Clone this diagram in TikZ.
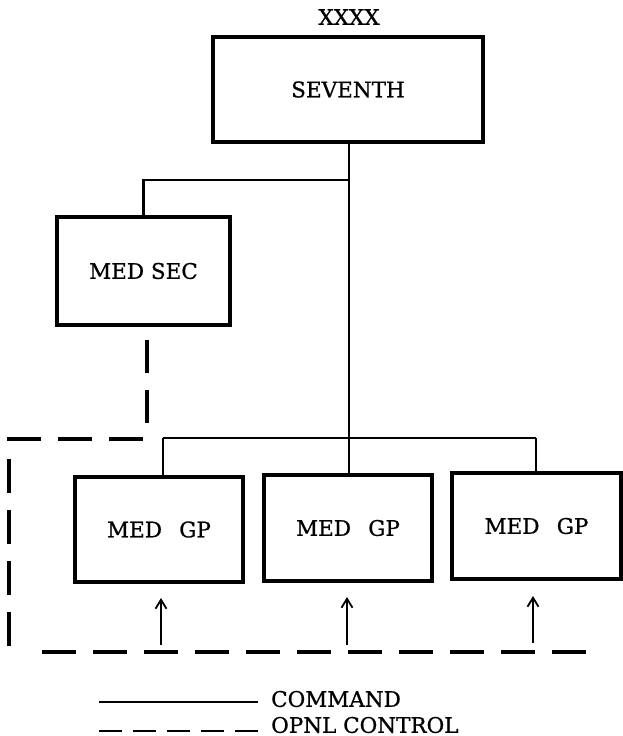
\documentclass[tikz,border=0pt]{standalone}
\usepackage{fontspec}
\setmainfont{DejaVu Serif}[FakeBold=0.8]
\usetikzlibrary{arrows.meta}
\begin{document}
\begin{tikzpicture}[x=1pt,y=-1pt,
  lbl/.style={font=\fontsize{21.5}{24}\selectfont, inner sep=0pt},
  unit/.style={draw, line width=3.2pt, inner sep=0pt, font=\fontsize{21.5}{24}\selectfont},
  cmd/.style={line width=2.8pt},
  opnl/.style={line width=3.6pt, dash pattern=on 34pt off 17pt},
  upar/.style={line width=2pt, -{Straight Barb[length=9pt,width=11pt,line width=1.8pt]}},
  legsolid/.style={line width=1.8pt},
  legdash/.style={line width=2pt, dash pattern=on 23pt off 11pt}]
\useasboundingbox (0,0) rectangle (622,736);
% units
\node[unit, minimum width=270pt, minimum height=105pt] (sev) at (348,89.5) {SEVENTH};
\node[lbl] (xxxx) at (349,17) {XXXX};
\node[unit, minimum width=173pt, minimum height=108pt] (sec) at (143.5,271) {MED SEC};
\node[unit, minimum width=168pt, minimum height=105pt] (gp1) at (159,529.5) {MED\hspace{0.8em}GP};
\node[unit, minimum width=168pt, minimum height=106pt] (gp2) at (348,528) {MED\hspace{0.8em}GP};
\node[unit, minimum width=169pt, minimum height=106pt] (gp3) at (536.5,526) {MED\hspace{0.8em}GP};
% command lines
\coordinate (br) at (349,180);
\coordinate (busL) at (163,438);
\coordinate (busR) at (536,438);
\draw[cmd] (sev.south -| br) -- (br |- busL);
\draw[cmd] (br) -| (sec.north);
\draw[cmd] (busL) -- (busR);
\draw[cmd] (busL) -- (busL |- gp1.north);
\draw[cmd] (br |- busL) -- (br |- gp2.north);
\draw[cmd] (busR) -- (busR |- gp3.north);
% operational control (dashed enclosure)
\coordinate (oa1) at (147,340);
\coordinate (oa2) at (147,423);
\coordinate (ob1) at (143,439);
\coordinate (ob2) at (7,439);
\coordinate (oc1) at (9,459);
\coordinate (oc2) at (9,650);
\coordinate (od1) at (42,652);
\coordinate (od2) at (590,652);
\draw[opnl, dash pattern=on 33pt off 17pt] (oa1) -- (oa2);
\draw[opnl] (ob1) -- (ob2);
\draw[opnl] (oc1) -- (oc2);
\draw[opnl] (od1) -- (od2);
% arrows
\coordinate (a1) at (161,645);
\coordinate (a2) at (347,645);
\coordinate (a3) at (533,643);
\draw[upar] (a1) -- (a1 |- 0,598);
\draw[upar] (a2) -- (a2 |- 0,597);
\draw[upar] (a3) -- (a3 |- 0,596);
% legend
\coordinate (l1a) at (99,702);
\coordinate (l1b) at (258,702);
\coordinate (l2a) at (99,731);
\coordinate (l2b) at (258,731);
\draw[legsolid] (l1a) -- (l1b);
\draw[legdash] (l2a) -- (l2b);
\node[lbl, anchor=west] (lcmd) at (271,699) {COMMAND};
\node[lbl, anchor=west] (lop) at (271,725) {OPNL CONTROL};
\end{tikzpicture}
\end{document}
